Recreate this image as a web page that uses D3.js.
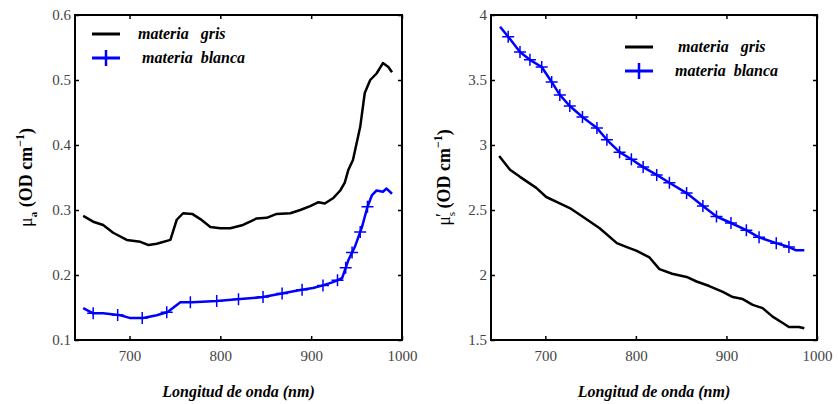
<!DOCTYPE html>
<html>
<head>
<meta charset="utf-8">
<script src="https://cdn.jsdelivr.net/npm/d3@7/dist/d3.min.js"></script>
<style>
  body { margin: 0; background: #fff; font-family: "Liberation Serif", "DejaVu Serif", Times, serif; }
  svg { display: block; }
  svg text { font-family: "Liberation Serif", "DejaVu Serif", Times, serif !important; }
</style>
</head>
<body>
<div id="chart"></div>
<script>
'use strict';

// absorption (left panel)
const absGrisNm  = [649, 660, 671, 682, 697, 712, 721, 730, 745, 752, 759, 769, 778, 789, 800, 811, 825, 840, 851, 862, 877, 888, 899, 908, 915, 924, 932, 937, 941, 946, 954, 959, 965, 972, 979, 985, 989];
const absGrisVal = [0.291, 0.282, 0.277, 0.265, 0.254, 0.251, 0.246, 0.248, 0.254, 0.285, 0.295, 0.294, 0.286, 0.274, 0.272, 0.272, 0.277, 0.287, 0.288, 0.294, 0.295, 0.300, 0.306, 0.312, 0.310, 0.318, 0.330, 0.342, 0.362, 0.377, 0.428, 0.480, 0.500, 0.510, 0.526, 0.520, 0.512];

const absBlancaNm  = [649, 660, 671, 690, 700, 715, 730, 742, 756, 769, 796, 822, 847, 869, 888, 902, 913, 924, 934, 941, 948, 956, 962, 967, 972, 979, 983, 989];
const absBlancaVal = [0.149, 0.141, 0.141, 0.138, 0.134, 0.134, 0.138, 0.143, 0.158, 0.158, 0.160, 0.163, 0.166, 0.172, 0.177, 0.180, 0.184, 0.189, 0.195, 0.223, 0.243, 0.274, 0.305, 0.323, 0.330, 0.328, 0.333, 0.325];
const absBlancaMarks = [660, 687, 714, 741, 767, 796, 820, 847, 868, 890, 913, 929, 938, 945, 954, 962];

// reduced scattering (right panel)
const scatGrisNm  = [649, 661, 672, 690, 701, 713, 727, 741, 760, 779, 790, 801, 815, 826, 840, 856, 867, 881, 896, 907, 918, 929, 940, 951, 960, 969, 980, 986];
const scatGrisVal = [2.915, 2.81, 2.755, 2.67, 2.60, 2.56, 2.515, 2.45, 2.36, 2.245, 2.215, 2.185, 2.135, 2.045, 2.01, 1.985, 1.95, 1.915, 1.87, 1.83, 1.815, 1.77, 1.745, 1.68, 1.64, 1.60, 1.60, 1.59];

const scatBlancaNm  = [650, 661, 672, 683, 696, 707, 716, 727, 741, 757, 768, 782, 795, 808, 823, 837, 856, 874, 889, 905, 922, 936, 955, 969, 977, 986];
const scatBlancaVal = [3.91, 3.815, 3.715, 3.655, 3.60, 3.485, 3.385, 3.30, 3.215, 3.13, 3.04, 2.945, 2.89, 2.83, 2.77, 2.71, 2.63, 2.53, 2.45, 2.40, 2.345, 2.29, 2.245, 2.215, 2.19, 2.19];
const scatBlancaMarks = [659, 672, 683, 696, 707, 716, 727, 741, 757, 768, 782, 795, 808, 823, 837, 856, 874, 889, 905, 922, 936, 955, 969];

const xTicks = [700, 800, 900, 1000];
const absTicks = [0.1, 0.2, 0.3, 0.4, 0.5, 0.6];
const scatTicks = [1.5, 2, 2.5, 3, 3.5, 4];
const legendNames = ['materia\u00a0\u00a0\u00a0gris', 'materia\u00a0\u00a0blanca'];

const svg = d3.select('#chart').append('svg')
    .attr('width', 838)
    .attr('height', 404);

function interp (xs, ys, x)
{
    for (let i = 1; i < xs.length; i++) {
        if (x <= xs[i]) {
            let t = (x - xs[i-1]) / (xs[i] - xs[i-1]);
            return ys[i-1] + t * (ys[i] - ys[i-1]);
        }
    }
    return ys[ys.length - 1];
}

function drawPanel (opt)
{
    let m = opt.box;
    let g = svg.append('g').attr('transform', 'translate(' + m.x + ',' + m.y + ')');
    let x = d3.scaleLinear().domain([640, 1000]).range([0, m.w]);
    let y = d3.scaleLinear().domain(opt.yDomain).range([m.h, 0]);

    // inside ticks on all four sides
    let tl = 4;
    let axes = [
        {a: d3.axisBottom(x).tickValues(xTicks).tickFormat(d3.format('d')), t: 'translate(0,' + m.h + ')', lab: 'x'},
        {a: d3.axisTop(x).tickValues(xTicks).tickFormat(''), t: 'translate(0,0)'},
        {a: d3.axisLeft(y).tickValues(opt.yTicks).tickFormat(d => d), t: 'translate(0,0)', lab: 'y'},
        {a: d3.axisRight(y).tickValues(opt.yTicks).tickFormat(''), t: 'translate(' + m.w + ',0)'}
    ];
    axes.forEach(d => {
        d.a.tickSizeInner(-tl).tickSizeOuter(0).tickPadding(0);
        let ag = g.append('g').attr('transform', d.t).call(d.a)
            .attr('font-family', null).attr('font-size', 15);
        ag.select('.domain').remove();
        ag.selectAll('line').attr('stroke', '#000').attr('stroke-width', 1.5);
        ag.selectAll('text').attr('fill', '#444');
        if (d.lab === 'x') ag.selectAll('text').attr('y', 10);
        if (d.lab === 'y') ag.selectAll('text').attr('x', -4);
    });

    g.append('rect')
        .attr('width', m.w).attr('height', m.h)
        .attr('fill', 'none').attr('stroke', '#000').attr('stroke-width', 2);

    let line = d3.line().x(d => x(d[0])).y(d => y(d[1]));

    let grisData = opt.grisNm.map((d, i) => [d, opt.grisVal[i]]);
    let blancaData = opt.blancaNm.map((d, i) => [d, opt.blancaVal[i]]);

    g.append('path').datum(grisData)
        .attr('d', line).attr('fill', 'none')
        .attr('stroke', '#000').attr('stroke-width', 2.5).attr('stroke-linejoin', 'round');
    g.append('path').datum(blancaData)
        .attr('d', line).attr('fill', 'none')
        .attr('stroke', '#0000ff').attr('stroke-width', 2.5).attr('stroke-linejoin', 'round');

    let ms = 6;
    g.append('g').selectAll('path')
        .data(opt.marks)
        .enter().append('path')
        .attr('transform', d => 'translate(' + x(d) + ',' + y(interp(opt.blancaNm, opt.blancaVal, d)) + ')')
        .attr('d', 'M' + (-ms) + ',0H' + ms + 'M0,' + (-ms) + 'V' + ms)
        .attr('stroke', '#0000ff').attr('stroke-width', 1.5);

    // legend
    let lg = g.append('g').attr('transform', 'translate(' + opt.legend.x + ',' + opt.legend.y + ')');
    lg.append('line').attr('x1', 0).attr('x2', 28).attr('y1', 0).attr('y2', 0)
        .attr('stroke', '#000').attr('stroke-width', 3);
    lg.append('line').attr('x1', 0).attr('x2', 28).attr('y1', 24).attr('y2', 24)
        .attr('stroke', '#0000ff').attr('stroke-width', 3);
    lg.append('path').attr('d', 'M14,16V32').attr('stroke', '#0000ff').attr('stroke-width', 2.5);
    lg.selectAll('text.leg')
        .data(legendNames)
        .enter().append('text')
        .attr('class', 'leg')
        .attr('x', (d, i) => opt.legend.tx[i])
        .attr('y', (d, i) => 5 + 24 * i)
        .attr('font-size', 16).attr('font-weight', 'bold').attr('font-style', 'italic')
        .text(d => d);

    // axis labels
    svg.append('text')
        .attr('x', m.x + m.w / 2).attr('y', 397)
        .attr('text-anchor', 'middle')
        .attr('font-size', 16).attr('font-weight', 'bold').attr('font-style', 'italic')
        .text('Longitud de onda (nm)');

    let yl = svg.append('text')
        .attr('transform', 'translate(' + opt.yLabelX + ',' + (m.y + m.h / 2) + ') rotate(-90)')
        .attr('text-anchor', 'middle')
        .attr('font-size', 18).attr('font-weight', 'bold');
    yl.append('tspan').attr('font-weight', 'normal').text('\u03bc');
    yl.append('tspan').attr('font-size', 11).attr('dy', 5).attr('font-weight', opt.subBold ? 'bold' : 'normal').text(opt.sub);
    if (opt.prime) yl.append('tspan').attr('dy', -6).attr('dx', -5).attr('font-weight', 'normal').text('\u2032');
    yl.append('tspan').attr('dy', opt.prime ? 1 : -5).text(' (OD cm');
    yl.append('tspan').attr('font-size', 12).attr('dy', -8).text('\u22121');
    yl.append('tspan').attr('dy', 8).text(')');
}

drawPanel({
    box: {x: 75, y: 15, w: 327, h: 325},
    yDomain: [0.1, 0.6],
    yTicks: absTicks,
    grisNm: absGrisNm, grisVal: absGrisVal,
    blancaNm: absBlancaNm, blancaVal: absBlancaVal,
    marks: absBlancaMarks,
    legend: {x: 17, y: 19, tx: [46, 50]},
    yLabelX: 32, sub: 'a', subBold: true, prime: false
});

drawPanel({
    box: {x: 491, y: 15, w: 326, h: 325},
    yDomain: [1.5, 4],
    yTicks: scatTicks,
    grisNm: scatGrisNm, grisVal: scatGrisVal,
    blancaNm: scatBlancaNm, blancaVal: scatBlancaVal,
    marks: scatBlancaMarks,
    legend: {x: 134, y: 32, tx: [53, 50]},
    yLabelX: 450, sub: 's', subBold: false, prime: true
});
</script>
</body>
</html>
